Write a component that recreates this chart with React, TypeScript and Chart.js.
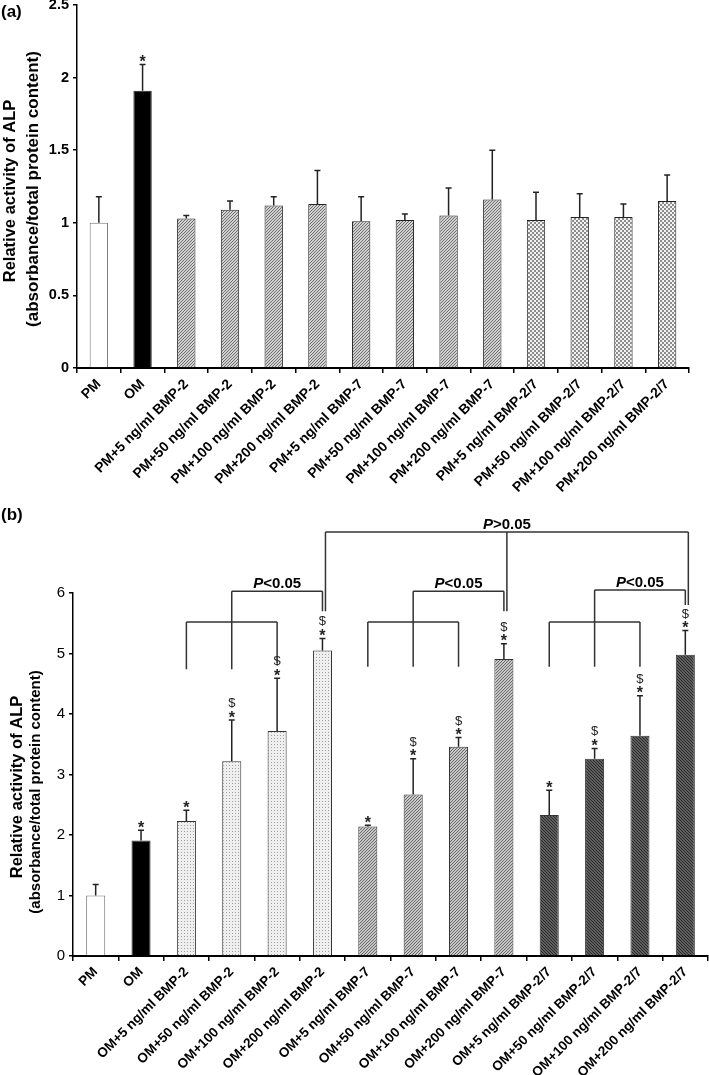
import React, { useEffect, useRef } from 'react';
import { Chart, registerables } from 'chart.js';

Chart.register(...registerables);

const FONT = '"Liberation Sans", Arial, Helvetica, sans-serif';

// ---------- Panel (a) data ----------
const aLabels = [
  'PM', 'OM',
  'PM+5 ng/ml BMP-2', 'PM+50 ng/ml BMP-2', 'PM+100 ng/ml BMP-2', 'PM+200 ng/ml BMP-2',
  'PM+5 ng/ml BMP-7', 'PM+50 ng/ml BMP-7', 'PM+100 ng/ml BMP-7', 'PM+200 ng/ml BMP-7',
  'PM+5 ng/ml BMP-2/7', 'PM+50 ng/ml BMP-2/7', 'PM+100 ng/ml BMP-2/7', 'PM+200 ng/ml BMP-2/7',
];
const aMeans = [1.0, 1.91, 1.03, 1.09, 1.12, 1.13, 1.01, 1.02, 1.05, 1.16, 1.02, 1.04, 1.04, 1.15];
const aSD = [0.18, 0.18, 0.02, 0.06, 0.06, 0.23, 0.17, 0.04, 0.19, 0.34, 0.19, 0.16, 0.09, 0.18];
const aMarks = ['', '*', '', '', '', '', '', '', '', '', '', '', '', ''];
const aFills = ['white', 'black', 'hatchA', 'hatchA', 'hatchA', 'hatchA', 'hatchA', 'hatchA', 'hatchA', 'hatchA', 'checkA', 'checkA', 'checkA', 'checkA'];
const aYMax = 2.5;
const aYStep = 0.5;

// ---------- Panel (b) data ----------
const bLabels = [
  'PM', 'OM',
  'OM+5 ng/ml BMP-2', 'OM+50 ng/ml BMP-2', 'OM+100 ng/ml BMP-2', 'OM+200 ng/ml BMP-2',
  'OM+5 ng/ml BMP-7', 'OM+50 ng/ml BMP-7', 'OM+100 ng/ml BMP-7', 'OM+200 ng/ml BMP-7',
  'OM+5 ng/ml BMP-2/7', 'OM+50 ng/ml BMP-2/7', 'OM+100 ng/ml BMP-2/7', 'OM+200 ng/ml BMP-2/7',
];
const bMeans = [1.0, 1.91, 2.23, 3.22, 3.72, 5.05, 2.14, 2.67, 3.46, 4.91, 2.33, 3.26, 3.64, 4.98];
const bSD = [0.18, 0.17, 0.18, 0.68, 0.87, 0.2, 0.02, 0.59, 0.15, 0.25, 0.41, 0.17, 0.66, 0.4];
const bMarks = ['', '*', '*', '$*', '$*', '$*', '*', '$*', '$*', '$*', '*', '$*', '$*', '$*'];
const bFills = ['white', 'black', 'dotsB', 'dotsB', 'dotsB', 'dotsB', 'hatchB', 'hatchB', 'hatchB', 'hatchB', 'darkB', 'darkB', 'darkB', 'darkB'];
const bYMax = 6;
const bYStep = 1;

// significance brackets for (b): legs = [category index, lower end value], level = y value of horizontal bar
const bBrackets = [
  { legs: [[2, 4.74], [3, 4.74], [4, 4.84]], level: 5.52, text: '', outer: false },
  { legs: [[3, 5.52], [5, 5.7]], level: 6.03, text: '<0.05', outer: false },
  { legs: [[6, 4.78], [7, 4.78], [8, 4.78]], level: 5.52, text: '', outer: false },
  { legs: [[7, 5.52], [9, 5.7]], level: 6.03, text: '<0.05', outer: false },
  { legs: [[10, 4.78], [11, 4.78], [12, 4.78]], level: 5.52, text: '', outer: false },
  { legs: [[11, 5.52], [13, 5.8]], level: 6.05, text: '<0.05', outer: false },
  { legs: [[5, 5.7], [9, 5.7], [13, 5.8]], level: 7.01, text: '>0.05', outer: true },
];

const Y_TITLE_1 = 'Relative activity of ALP';
const Y_TITLE_2 = '(absorbance/total protein content)';

function makePattern(kind: string): any {
  if (kind === 'white') return '#ffffff';
  if (kind === 'black') return '#000000';
  const c = document.createElement('canvas');
  const p = c.getContext('2d')!;
  if (kind === 'hatchA' || kind === 'hatchB') {
    c.width = 3; c.height = 3;
    p.fillStyle = kind === 'hatchA' ? '#d2d2d2' : '#c8c8c8';
    p.fillRect(0, 0, 3, 3);
    p.fillStyle = kind === 'hatchA' ? '#6e6e6e' : '#686868';
    for (let i = 0; i < 3; i++) p.fillRect(i, 2 - i, 1, 1);
  } else if (kind === 'checkA') {
    c.width = 4; c.height = 4;
    p.fillStyle = '#f2f2f2';
    p.fillRect(0, 0, 4, 4);
    p.fillStyle = '#8c8c8c';
    p.fillRect(0, 0, 2, 2);
    p.fillRect(2, 2, 2, 2);
  } else if (kind === 'dotsB') {
    c.width = 3; c.height = 3;
    p.fillStyle = '#efefef';
    p.fillRect(0, 0, 3, 3);
    p.fillStyle = '#a0a0a0';
    p.fillRect(1, 1, 1, 1);
  } else if (kind === 'darkB') {
    c.width = 3; c.height = 3;
    p.fillStyle = '#5e5e5e';
    p.fillRect(0, 0, 3, 3);
    p.fillStyle = '#2c2c2c';
    for (let i = 0; i < 3; i++) p.fillRect(i, i, 1, 1);
  }
  return p.createPattern(c, 'repeat');
}

function drawCentered(ctx: CanvasRenderingContext2D, txt: string, x: number, cy: number) {
  ctx.textAlign = 'center';
  ctx.textBaseline = 'alphabetic';
  const m = ctx.measureText(txt);
  const y = cy + (m.actualBoundingBoxAscent - m.actualBoundingBoxDescent) / 2;
  ctx.fillText(txt, x, y);
}

function drawRotated(ctx: CanvasRenderingContext2D, text: string, xb: number, cy: number, font: string) {
  ctx.save();
  ctx.translate(xb, cy);
  ctx.rotate(-Math.PI / 2);
  ctx.font = font;
  ctx.fillStyle = '#000';
  ctx.textAlign = 'center';
  ctx.textBaseline = 'alphabetic';
  ctx.fillText(text, 0, 0);
  ctx.restore();
}

type PanelCfg = {
  key: string;
  top: number;
  height: number;
  labels: string[];
  means: number[];
  sd: number[];
  marks: string[];
  fills: string[];
  yMax: number;
  yStep: number;
  axisLeft: number;
  plotTop: number;
  plotBottom: number;
  padRight: number;
  yTickFont: any;
  xTickSize: number;
  panelLabel: string;
  panelLabelY: number;
  title1: { xb: number; cy: number; font: string };
  title2: { xb: number; cy: number; font: string };
  starOff: number;
  dollarOff: number;
  brackets: any[];
  borderColors: string[];
};

const panelA: PanelCfg = {
  key: 'a',
  top: 0,
  height: 500,
  labels: aLabels,
  means: aMeans,
  sd: aSD,
  marks: aMarks,
  fills: aFills,
  yMax: aYMax,
  yStep: aYStep,
  axisLeft: 77,
  plotTop: 5,
  plotBottom: 368,
  padRight: 20,
  yTickFont: { family: FONT, size: 14.5, weight: 'bold', lineHeight: 1 },
  xTickSize: 14,
  panelLabel: '(a)',
  panelLabelY: 12,
  title1: { xb: 14.5, cy: 191, font: `bold 16.5px ${FONT}` },
  title2: { xb: 38, cy: 189, font: `bold 17px ${FONT}` },
  starOff: 6,
  dollarOff: 17,
  brackets: [],
  borderColors: aFills.map((f) => (f === 'white' ? '#777' : '#222')),
};

const panelB: PanelCfg = {
  key: 'b',
  top: 500,
  height: 575,
  labels: bLabels,
  means: bMeans,
  sd: bSD,
  marks: bMarks,
  fills: bFills,
  yMax: bYMax,
  yStep: bYStep,
  axisLeft: 73,
  plotTop: 93,
  plotBottom: 456,
  padRight: 1,
  yTickFont: { family: FONT, size: 15, weight: 'normal', lineHeight: 1 },
  xTickSize: 13.5,
  panelLabel: '(b)',
  panelLabelY: 15,
  title1: { xb: 22, cy: 287, font: `bold 16.5px ${FONT}` },
  title2: { xb: 39.5, cy: 292, font: `bold 15px ${FONT}` },
  starOff: 6,
  dollarOff: 17,
  brackets: bBrackets,
  borderColors: bFills.map((f) => (f === 'white' ? '#777' : '#333')),
};

function makeExtras(cfg: PanelCfg) {
  return {
    id: 'extras_' + cfg.key,
    afterDraw(chart: any) {
      const ctx: CanvasRenderingContext2D = chart.ctx;
      const xs = chart.scales.x;
      const ys = chart.scales.y;
      ctx.save();

      // error bars (upper half)
      ctx.strokeStyle = '#222';
      ctx.lineWidth = 1.5;
      cfg.means.forEach((m, i) => {
        const px = xs.getPixelForValue(i);
        const base = ys.getPixelForValue(m);
        const top = ys.getPixelForValue(m + cfg.sd[i]);
        ctx.beginPath();
        ctx.moveTo(px, base);
        ctx.lineTo(px, top);
        ctx.moveTo(px - 3, top);
        ctx.lineTo(px + 3, top);
        ctx.stroke();
      });

      // significance marks
      cfg.means.forEach((m, i) => {
        const mk = cfg.marks[i];
        if (!mk) return;
        const px = xs.getPixelForValue(i);
        const cap = ys.getPixelForValue(m + cfg.sd[i]);
        ctx.fillStyle = '#222';
        if (mk.includes('*')) {
          ctx.font = `bold 16px ${FONT}`;
          drawCentered(ctx, '*', px, cap - cfg.starOff);
        }
        if (mk.includes('$')) {
          ctx.font = `13px ${FONT}`;
          drawCentered(ctx, '$', px, cap - cfg.dollarOff);
        }
      });

      // brackets
      ctx.strokeStyle = '#333';
      ctx.lineWidth = 1.5;
      cfg.brackets.forEach((b) => {
        const shift = b.outer ? 3 : 0;
        const ly = ys.getPixelForValue(b.level);
        const xsPix = b.legs.map((l: number[]) => xs.getPixelForValue(l[0]) + shift);
        ctx.beginPath();
        ctx.moveTo(xsPix[0], ly);
        ctx.lineTo(xsPix[xsPix.length - 1], ly);
        b.legs.forEach((l: number[], k: number) => {
          ctx.moveTo(xsPix[k], ly);
          ctx.lineTo(xsPix[k], ys.getPixelForValue(l[1]));
        });
        ctx.stroke();
        if (b.text) {
          const cx = (xsPix[0] + xsPix[xsPix.length - 1]) / 2;
          const f1 = `italic bold 15px ${FONT}`;
          const f2 = `bold 15px ${FONT}`;
          ctx.font = f1;
          const w1 = ctx.measureText('P').width;
          ctx.font = f2;
          const w2 = ctx.measureText(b.text).width;
          const x0 = cx - (w1 + w2) / 2;
          ctx.fillStyle = '#000';
          ctx.textAlign = 'left';
          ctx.textBaseline = 'alphabetic';
          ctx.font = f1;
          ctx.fillText('P', x0, ly - 3);
          ctx.font = f2;
          ctx.fillText(b.text, x0 + w1, ly - 3);
        }
      });

      // axis titles
      drawRotated(ctx, Y_TITLE_1, cfg.title1.xb, cfg.title1.cy, cfg.title1.font);
      drawRotated(ctx, Y_TITLE_2, cfg.title2.xb, cfg.title2.cy, cfg.title2.font);

      // panel label
      ctx.fillStyle = '#000';
      ctx.font = `bold 17px ${FONT}`;
      ctx.textAlign = 'left';
      ctx.textBaseline = 'middle';
      ctx.fillText(cfg.panelLabel, 1, cfg.panelLabelY);

      ctx.restore();
    },
  };
}

function Panel({ cfg }: { cfg: PanelCfg }) {
  const ref = useRef<HTMLCanvasElement>(null);
  useEffect(() => {
    const canvas = ref.current;
    if (!canvas) return;
    const xHeight = cfg.height - cfg.plotBottom;
    const chart = new Chart(canvas, {
      type: 'bar',
      data: {
        labels: cfg.labels,
        datasets: [
          {
            data: cfg.means,
            backgroundColor: cfg.fills.map(makePattern),
            borderColor: cfg.borderColors,
            borderWidth: 1,
            barPercentage: 0.42,
            categoryPercentage: 1,
          },
        ],
      },
      options: {
        responsive: false,
        animation: false,
        events: [],
        layout: { padding: { top: cfg.plotTop, right: cfg.padRight, left: 0, bottom: 0 } },
        plugins: { legend: { display: false }, tooltip: { enabled: false }, title: { display: false } },
        scales: {
          x: {
            type: 'category',
            offset: true,
            grid: { display: true, offset: true, drawOnChartArea: false, drawTicks: true, tickLength: 5, color: '#000', lineWidth: 1.5 },
            border: { display: true, color: '#000', width: 2 },
            ticks: {
              autoSkip: false,
              maxRotation: 45,
              minRotation: 45,
              padding: 3,
              color: '#000',
              font: { family: FONT, size: cfg.xTickSize, weight: 'bold' },
            },
            afterFit: (s: any) => {
              s.height = xHeight;
              s.paddingLeft = 0;
              s.paddingRight = 0;
            },
          },
          y: {
            type: 'linear',
            min: 0,
            max: cfg.yMax,
            ticks: {
              stepSize: cfg.yStep,
              padding: 4,
              color: '#000',
              font: cfg.yTickFont,
              callback: (v: any) => String(Number(v)),
            },
            grid: { display: true, drawOnChartArea: false, drawTicks: true, tickLength: 4, color: '#000', lineWidth: 1.5 },
            border: { display: true, color: '#000', width: 1.5 },
            afterFit: (s: any) => {
              s.width = cfg.axisLeft;
              s.paddingTop = 0;
              s.paddingBottom = 0;
            },
          },
        },
      } as any,
      plugins: [makeExtras(cfg)],
    });
    return () => chart.destroy();
  }, [cfg]);
  return (
    <canvas
      ref={ref}
      width={709}
      height={cfg.height}
      style={{ position: 'absolute', left: 0, top: cfg.top, width: 709, height: cfg.height, display: 'block' }}
    />
  );
}

export default function App() {
  return (
    <div style={{ position: 'absolute', left: 0, top: 0, width: 709, height: 1075, background: '#ffffff', overflow: 'hidden' }}>
      <Panel cfg={panelA} />
      <Panel cfg={panelB} />
    </div>
  );
}
